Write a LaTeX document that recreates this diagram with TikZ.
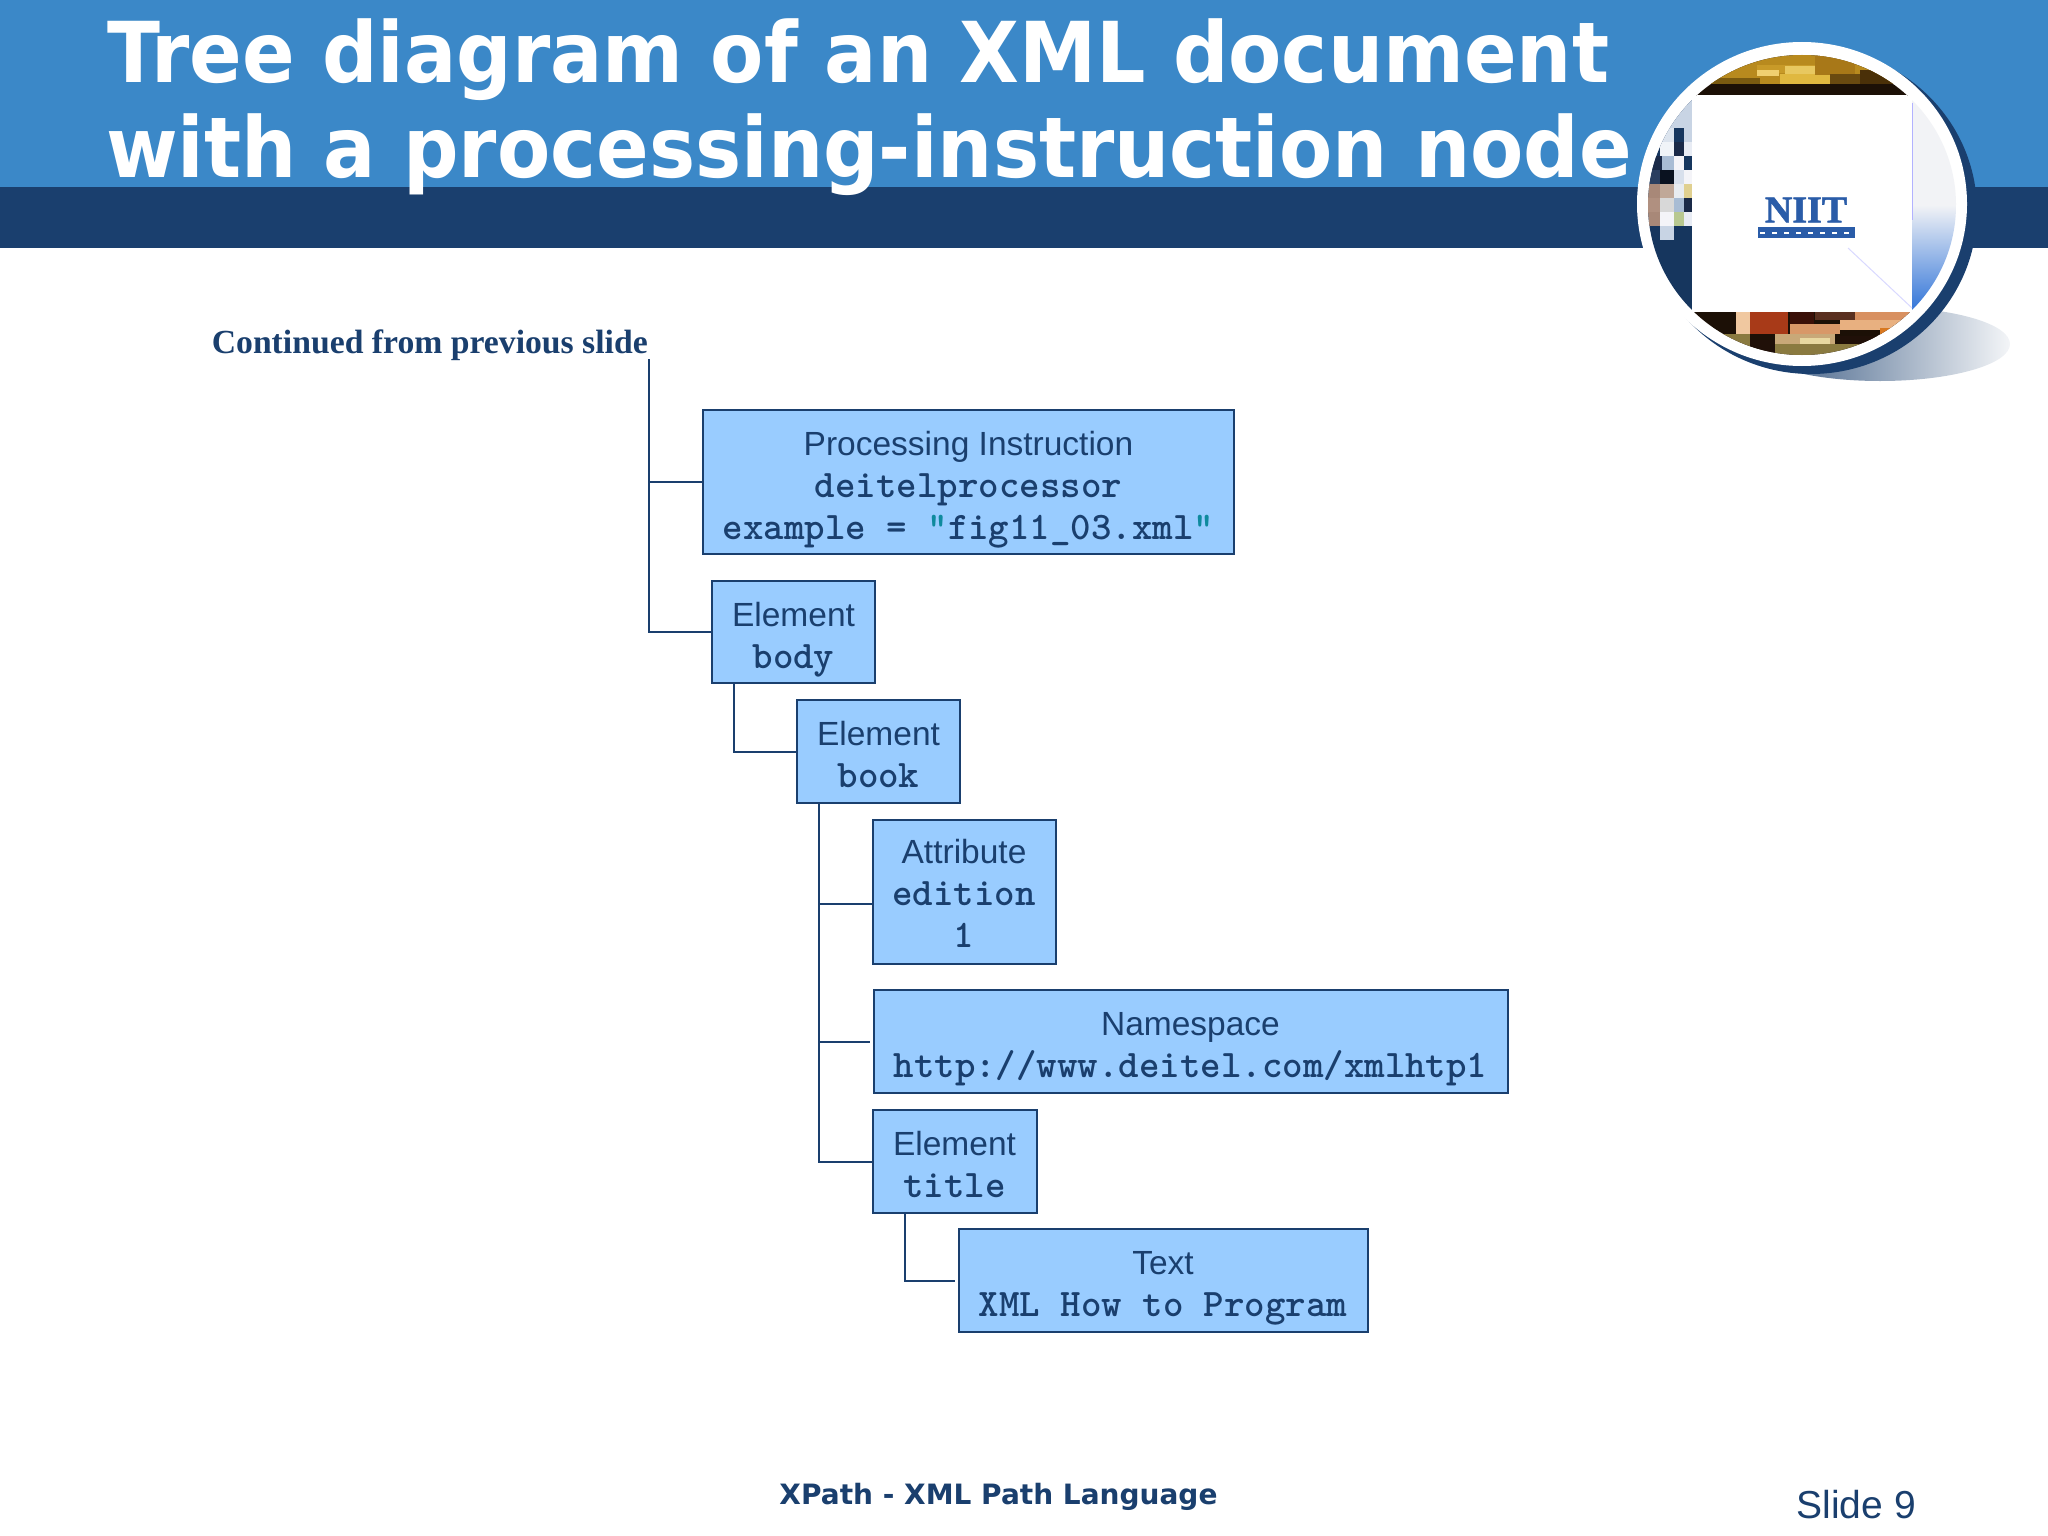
\documentclass[tikz,border=0pt]{standalone}
\usepackage{fontspec}
\setmainfont{Liberation Sans}
\newfontfamily\headfont{DejaVu Sans}
\newfontfamily\bigheadfont[FakeStretch=0.924]{DejaVu Sans}
\newfontfamily\notefont{Liberation Serif}
\definecolor{slideblue}{HTML}{3B88C8}
\definecolor{slidenavy}{HTML}{1A3F6E}
\definecolor{boxblue}{HTML}{99CCFF}
\definecolor{quoteteal}{HTML}{0E8A9E}
\definecolor{logoblue}{HTML}{2A5CA8}
\newcommand{\code}[1]{{\ttfamily\bfseries\addfontfeature{FakeBold=0.8}\fontsize{39}{42}\selectfont #1}}
\newcommand{\pad}[1]{\rule{0pt}{#1pt}}
\newcommand{\pixel}[5]{\definecolor{pixcol}{HTML}{#5}\fill[pixcol] (#1,#2) rectangle ++(#3,#4);}
\tikzset{
  infobox/.style={draw=slidenavy, fill=boxblue, line width=2pt, text=slidenavy,
                  inner sep=0pt, align=center, font=\fontsize{33.5}{42}\selectfont},
  branch/.style={draw=slidenavy, line width=2pt},
  headline/.style={anchor=base west, text=white, inner sep=0pt,
                   font=\bigheadfont\bfseries\fontsize{84}{96}\selectfont}
}

\begin{document}
\begin{tikzpicture}[x=1pt,y=-1pt]
\useasboundingbox (0,0) rectangle (2048,1536);

% the header
\fill[slideblue] (0,0) rectangle (2048,187);
\fill[slidenavy] (0,187) rectangle (2048,248);
\node[headline] (titleone) at (107,83) {Tree diagram of an XML document};
\node[headline] (titletwo) at (106,178) {with a processing-instruction node};

% the round picture
\shade[left color=slidenavy!90,right color=slidenavy!5]
      (1880,344) ellipse[x radius=130,y radius=37];
\fill[slidenavy] (1811,211) ellipse[x radius=166,y radius=163];
\fill[white] (1802,204) ellipse[x radius=165,y radius=162];
\begin{scope}
  \clip (1802,205) ellipse[x radius=154,y radius=150];
  % gold strip
  \pixel{1640}{50}{320}{46}{1C1006}
  \foreach \px/\py/\pw/\ph/\pcol in {1700/50/205/34/B88A1E,1757/65/58/8/C89A28,
      1757/70/22/6/F0D070,1785/66/56/8/E8C860,1780/74/50/10/E0B840,1815/55/40/20/A87818,
      1830/74/30/10/6A4A10,1860/70/50/14/4A3008,1710/78/50/6/7A5A10,1875/62/30/8/C09828}
    {\pixel{\px}{\py}{\pw}{\ph}{\pcol}}
  % dark blue at the left
  \pixel{1640}{95}{52}{225}{16365E}
  \pixel{1668}{100}{24}{28}{C8D4E4}
  \foreach \px/\py/\pcol in {1660/128/DCE4EE,1674/128/16365E,1684/128/C8D4E4,
      1660/142/F0F4F8,1674/142/1A2A48,1684/142/E8ECF4,
      1652/156/1A2A48,1662/156/A8BCD4,1674/156/F4F4F8,1684/156/16365E,
      1648/170/2A3F60,1660/170/0A1220,1674/170/D8E0EC,1684/170/F4F4F8,
      1648/184/A88878,1660/184/C0A898,1674/184/E8ECF0,1684/184/E0D090,
      1648/198/B09080,1660/198/D8D8D8,1674/198/A8BCD4,1684/198/1A2A48,
      1648/212/A88878,1660/212/F4F4F8,1674/212/B8C890,1684/212/E8ECF4,
      1660/226/C8D4E4,1674/226/16365E}
    {\pixel{\px}{\py}{14}{14}{\pcol}}
  % pale blue at the right
  \definecolor{paleedge}{HTML}{F2F3F6}
  \definecolor{edgeblue}{HTML}{2F73D8}
  \fill[paleedge] (1912,95) rectangle (1960,205);
  \shade[top color=paleedge,bottom color=edgeblue] (1912,205) rectangle (1960,312);
  \draw[blue!30!white,line width=3pt] (1911,103) -- (1911,220);
  % the bottom strip
  \pixel{1640}{312}{320}{45}{1C1006}
  \foreach \px/\py/\pw/\ph/\pcol in {1736/312/14/22/F0C8A0,1750/312/38/22/A83A18,
      1790/312/24/12/3A1008,1815/312/40/8/5A3020,1855/312/60/8/D89060,
      1790/324/50/10/D89868,1840/320/70/10/E8B080,1880/328/30/8/D87820,
      1700/334/50/24/8A7A40,1750/340/25/14/201008,1775/334/60/10/C8A878,
      1775/344/140/14/8A7A40,1800/338/30/6/E8D8A0,1840/336/60/8/201008}
    {\pixel{\px}{\py}{\pw}{\ph}{\pcol}}
  % the white sheet
  \fill[white] (1692,95) rectangle (1912,312);
  \draw[blue!15!white,line width=1pt] (1848,248) -- (1912,308);
\end{scope}
\node[text=logoblue,inner sep=0pt,font=\notefont\bfseries\addfontfeature{FakeBold=1.5}\fontsize{38}{40}\selectfont]
      (logo) at (1806,210) {NIIT};
\fill[logoblue] (1758,227) rectangle (1855,238);
\draw[white,line width=2pt,dash pattern=on 5pt off 7pt] (1760,233) -- (1853,233);

% the boxes
\node[infobox,minimum width=531pt,minimum height=144pt] (pi) at (968.5,482)
     {\pad{40}Processing Instruction\\ \code{deitelprocessor}\\
      \code{example = \textcolor{quoteteal}{"}fig11\_03.xml\textcolor{quoteteal}{"}}};
\node[infobox,minimum width=163pt,minimum height=102pt] (body) at (793.5,632)
     {\pad{40}Element\\ \code{body}};
\node[infobox,minimum width=163pt,minimum height=103pt] (book) at (878.5,751.5)
     {\pad{30}Element\\ \code{book}};
\node[infobox,minimum width=183pt,minimum height=144pt] (edition) at (964,892)
     {\pad{27}Attribute\\ \code{edition}\\ \code{1}};
\node[infobox,minimum width=634pt,minimum height=103pt] (space) at (1190.5,1041.5)
     {\pad{39}Namespace\\ \code{http://www.deitel.com/xmlhtp1}};
\node[infobox,minimum width=164pt,minimum height=103pt] (title) at (954.5,1161.5)
     {\pad{30}Element\\ \code{title}};
\node[infobox,minimum width=409pt,minimum height=103pt] (text) at (1163,1280.5)
     {\pad{39}Text\\ \code{XML How to Program}};

% the labels
\node[anchor=base east,inner sep=0pt,text=slidenavy,font=\notefont\bfseries\fontsize{33.7}{40}\selectfont]
     (continued) at (648,353) {Continued from previous slide};
\node[anchor=base,inner sep=0pt,text=slidenavy,font=\headfont\bfseries\fontsize{28}{34}\selectfont]
     (footer) at (998.5,1504) {XPath - XML Path Language};
\node[anchor=base east,inner sep=0pt,text=slidenavy,font=\fontsize{39}{44}\selectfont]
     (slideno) at (1916,1518) {Slide 9};

% the connectors
\coordinate (rootline) at (649,359);
\coordinate (bodyline) at ([xshift=23pt]body.south west);
\coordinate (bookline) at ([xshift=23pt]book.south west);
\coordinate (titleline) at ([xshift=33pt]title.south west);
\draw[branch] (rootline) |- (body.west);
\draw[branch] (rootline |- pi.west) -- (pi.west);
\draw[branch] (bodyline) |- (book.west);
\draw[branch] (bookline) |- (title.west);
\draw[branch] (bookline |- edition.west) ++(0,12) -- ++(53,0);
\draw[branch] (bookline |- space.west) -- ([xshift=-3pt]space.west);
\draw[branch] (titleline) |- ([xshift=-3pt]text.west);
\end{tikzpicture}
\end{document}
